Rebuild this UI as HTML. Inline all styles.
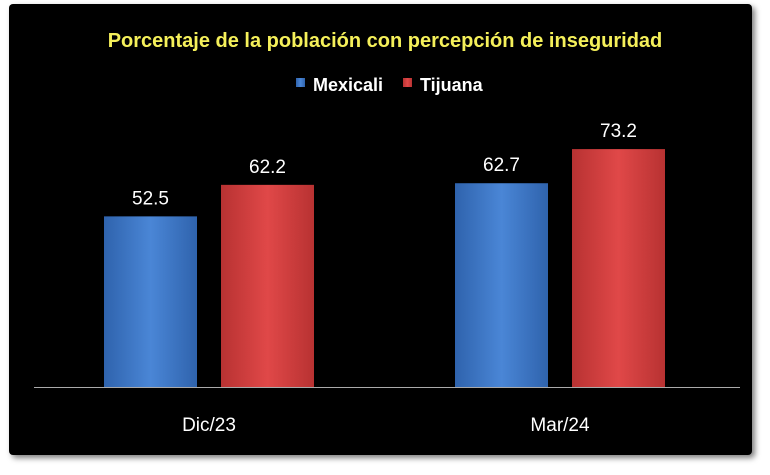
<!DOCTYPE html>
<html><head><meta charset="utf-8"><style>
html,body{margin:0;padding:0;background:#fff;}
body{width:770px;height:470px;overflow:hidden;font-family:"Liberation Sans",sans-serif;}
</style></head><body>
<svg width="770" height="470" xmlns="http://www.w3.org/2000/svg">
<defs>
<linearGradient id="gb" x1="0" x2="1" y1="0" y2="0"><stop offset="0" stop-color="#2f63ad"/><stop offset="0.5" stop-color="#4a86d6"/><stop offset="1" stop-color="#2f63ad"/></linearGradient>
<linearGradient id="gr" x1="0" x2="1" y1="0" y2="0"><stop offset="0" stop-color="#b83232"/><stop offset="0.5" stop-color="#e04848"/><stop offset="1" stop-color="#b83232"/></linearGradient>
<filter id="sh"><feDropShadow dx="3" dy="3" stdDeviation="3" flood-color="#000" flood-opacity="0.5"/></filter>
</defs>
<rect x="9" y="4" width="743" height="451" rx="4" fill="#050505" filter="url(#sh)"/>
<text x="385" y="47" text-anchor="middle" fill="#f5f05a" font-weight="bold" font-size="20">Porcentaje de la población con percepción de inseguridad</text>
<g>
<rect x="296" y="78" width="9" height="9" fill="url(#gb)"/>
<text x="313" y="91" fill="#fff" font-weight="bold" font-size="18">Mexicali</text>
<rect x="403" y="78" width="9" height="9" fill="url(#gr)"/>
<text x="420" y="91" fill="#fff" font-weight="bold" font-size="18">Tijuana</text>
</g>
<line x1="34" y1="387.5" x2="740" y2="387.5" stroke="#aaa" stroke-width="1"/>
<g id="bars"></g>
</svg>
<script>
const categories = ["Dic/23", "Mar/24"];
const mexicali = [52.5, 62.7];
const tijuana = [62.2, 73.2];
const ns = "http://www.w3.org/2000/svg";
const baseY = 387, pxPer = 3.25;
function yScale(v){ return baseY - v * pxPer; }
function groupX(i){ return 104 + i * 351; }
const g = document.getElementById('bars');
const svg = g.ownerSVGElement;
function bar(x, v, fill, name){
  const r = document.createElementNS(ns, 'rect');
  r.setAttribute('x', x); r.setAttribute('y', yScale(v));
  r.setAttribute('width', 93); r.setAttribute('height', baseY - yScale(v));
  r.setAttribute('fill', fill);
  
  
  g.appendChild(r);
  const t = document.createElementNS(ns, 'text');
  t.setAttribute('x', x + 46.5); t.setAttribute('y', yScale(v) - 12);
  t.setAttribute('text-anchor', 'middle'); t.setAttribute('fill', '#fff'); t.setAttribute('font-size', '19');
  t.textContent = v.toFixed(1);
  
  
  g.appendChild(t);
}
categories.forEach((c, i) => {
  const x = groupX(i);
  bar(x, mexicali[i], 'url(#gb)', 'bar-mexicali-' + i);
  bar(x + 117, tijuana[i], 'url(#gr)', 'bar-tijuana-' + i);
  const t = document.createElementNS(ns, 'text');
  t.setAttribute('x', x + 105); t.setAttribute('y', 431);
  t.setAttribute('text-anchor', 'middle'); t.setAttribute('fill', '#fff'); t.setAttribute('font-size', '19');
  t.textContent = c;
  
  
  g.appendChild(t);
});
</script>
</body></html>
